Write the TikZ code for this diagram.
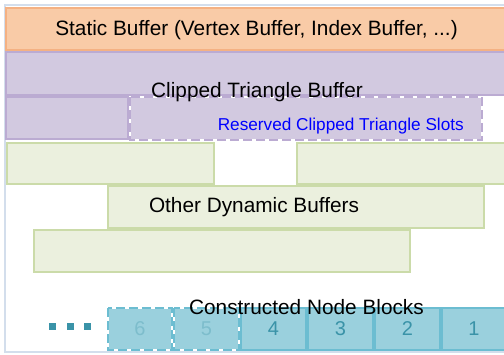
\documentclass[tikz,border=0pt]{standalone}
\usepackage{fontspec}
\setmainfont{Liberation Sans}
\definecolor{frameC}{HTML}{D3DEEC}
\definecolor{orFill}{HTML}{F9CBA7}
\definecolor{orLine}{HTML}{F4B183}
\definecolor{puFill}{HTML}{D2C9E0}
\definecolor{puLine}{HTML}{BBABD2}
\definecolor{grFill}{HTML}{EBF0DE}
\definecolor{grLine}{HTML}{CBDBA9}
\definecolor{blFill}{HTML}{9AD0DD}
\definecolor{blLine}{HTML}{6CBDD1}
\definecolor{blText}{HTML}{3A93A8}
\definecolor{blFaint}{HTML}{7DBDCC}
\tikzset{
  x=1pt,y=-1pt,
  orbox/.style={fill=orFill,draw=orLine,line width=1.2pt},
  pubox/.style={fill=puFill,draw=puLine,line width=1.2pt},
  pudash/.style={draw=puLine,line width=1.2pt,dash pattern=on 9pt off 4pt},
  grbox/.style={fill=grFill,draw=grLine,line width=1.2pt},
  blbox/.style={fill=blFill,draw=blLine,line width=1.2pt},
  bldash/.style={draw=blLine,line width=1.2pt,dash pattern=on 9pt off 4pt},
  whiteline/.style={draw=white,line width=1.2pt},
  bigtxt/.style={font=\fontsize{20.8}{24}\selectfont,text=black,inner sep=0pt},
  numtxt/.style={font=\fontsize{20}{24}\selectfont,text=blText,inner sep=0pt},
  faintnum/.style={font=\fontsize{20}{24}\selectfont,text=blFaint,inner sep=0pt},
  dotsq/.style={fill=blText,draw=none}
}
\begin{document}
\begin{tikzpicture}
\useasboundingbox (0,0) rectangle (504,354);
\fill[white] (0,0) rectangle (504,354);
% outer frame
\draw[frameC,line width=2pt] (5,5) rectangle (515,352);
% static buffer
\draw[orbox] (6,8) rectangle (515,50);
\node[bigtxt] (static) at (256.5,30) {Static Buffer (Vertex Buffer, Index Buffer, ...)};
% clipped triangle buffer
\draw[pubox] (6,52) rectangle (515,95);
\draw[pubox] (6,97) rectangle (128,139);
\fill[puFill] (130,97) rectangle (482,140);
\draw[whiteline] (130,97) rectangle (482,140);
\draw[pudash] (130,97) rectangle (482,140);
\node[bigtxt] (clipped) at (257,92) {Clipped Triangle Buffer};
\node[font=\fontsize{17.2}{20}\selectfont,text=blue,inner sep=0pt,anchor=east] (reserved) at (464,126) {Reserved Clipped Triangle Slots};
% other dynamic buffers
\draw[grbox] (7,143) rectangle (214,184);
\draw[grbox] (297,143) rectangle (515,184);
\draw[grbox] (108,186) rectangle (484,228);
\draw[grbox] (34,230) rectangle (410,272);
\node[bigtxt] (other) at (254,207) {Other Dynamic Buffers};
% node blocks
\foreach \xa/\xb/\n in {241/306/4,308/373/3,375/440/2,442/506/1}{
  \draw[blbox] (\xa,308) rectangle (\xb,350);
  \node[numtxt] (b\n) at ({(\xa+\xb)/2},329) {\n};
}
\foreach \xa/\xb/\n in {108/172/6,174/239/5}{
  \fill[blFill] (\xa,308) rectangle (\xb,350);
  \draw[whiteline] (\xa,308) rectangle (\xb,350);
  \draw[bldash] (\xa,308) rectangle (\xb,350);
  \node[faintnum] (b\n) at ({(\xa+\xb)/2},329) {\n};
}
\fill[dotsq] (49,323) rectangle (56,330);
\fill[dotsq] (67,323) rectangle (74,330);
\fill[dotsq] (84,323) rectangle (91,330);
\node[bigtxt] (constructed) at (306.5,307) {Constructed Node Blocks};
\end{tikzpicture}
\end{document}
